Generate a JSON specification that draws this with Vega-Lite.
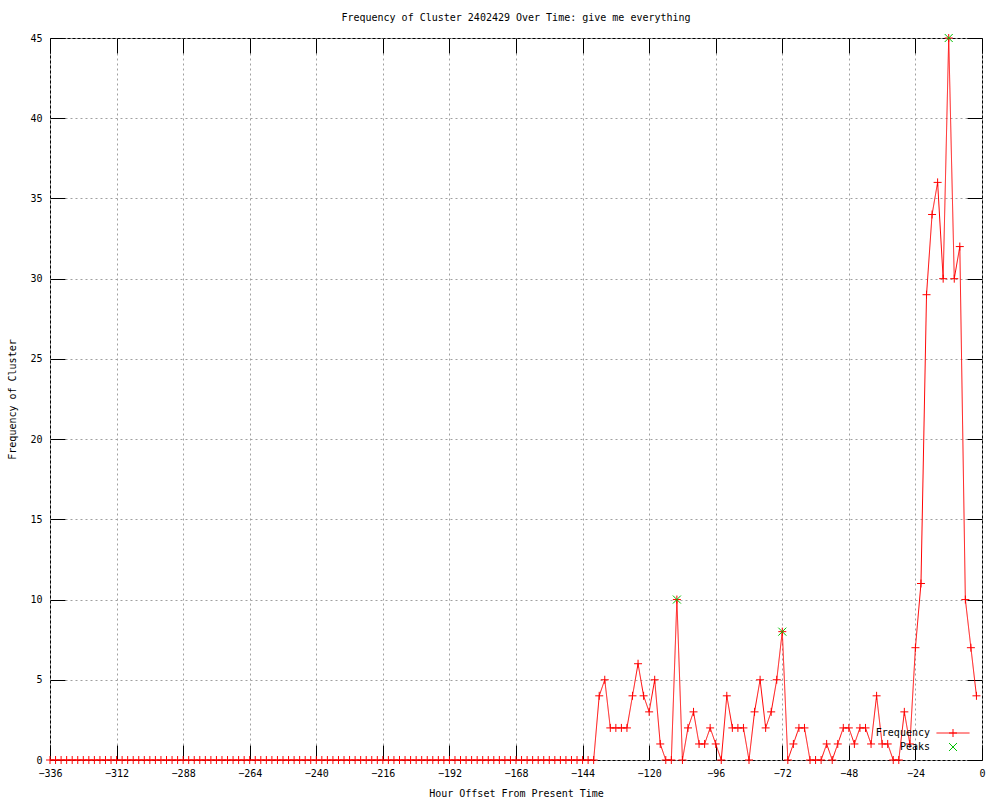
{
  "$schema": "https://vega.github.io/schema/vega-lite/v6.json",
  "width": 932,
  "height": 722,
  "autosize": {"type": "none"},
  "padding": {"left": 50, "top": 38, "right": 18, "bottom": 40},
  "background": "white",
  "title": {"text": "Frequency of Cluster 2402429 Over Time: give me everything", "font": "DejaVu Sans Mono", "fontSize": 10, "fontWeight": "normal", "color": "black", "anchor": "middle", "offset": 9},
  "config": {
    "view": {"stroke": "black", "strokeWidth": 1},
    "axis": {
      "domain": false,
      "tickColor": "black",
      "tickWidth": 1,
      "tickSize": -15,
      "labelFont": "DejaVu Sans Mono",
      "labelFontSize": 10,
      "labelColor": "black",
      "labelFlush": false,
      "labelOverlap": false,
      "titleFont": "DejaVu Sans Mono",
      "titleFontSize": 10,
      "titleFontWeight": "normal",
      "titleColor": "black",
      "gridColor": "#a0a0a0",
      "gridDash": [2, 3],
      "gridWidth": 1,
      "gridOpacity": 1
    },
    "legend": {"labelFont": "DejaVu Sans Mono", "labelFontSize": 10, "labelColor": "black"}
  },
  "datasets": {
    "freq": [
      {"hour": -336, "freq": 0}, {"hour": -334, "freq": 0}, {"hour": -332, "freq": 0}, {"hour": -330, "freq": 0}, {"hour": -328, "freq": 0}, {"hour": -326, "freq": 0}, {"hour": -324, "freq": 0}, {"hour": -322, "freq": 0}, {"hour": -320, "freq": 0}, {"hour": -318, "freq": 0}, {"hour": -316, "freq": 0}, {"hour": -314, "freq": 0},
      {"hour": -312, "freq": 0}, {"hour": -310, "freq": 0}, {"hour": -308, "freq": 0}, {"hour": -306, "freq": 0}, {"hour": -304, "freq": 0}, {"hour": -302, "freq": 0}, {"hour": -300, "freq": 0}, {"hour": -298, "freq": 0}, {"hour": -296, "freq": 0}, {"hour": -294, "freq": 0}, {"hour": -292, "freq": 0}, {"hour": -290, "freq": 0},
      {"hour": -288, "freq": 0}, {"hour": -286, "freq": 0}, {"hour": -284, "freq": 0}, {"hour": -282, "freq": 0}, {"hour": -280, "freq": 0}, {"hour": -278, "freq": 0}, {"hour": -276, "freq": 0}, {"hour": -274, "freq": 0}, {"hour": -272, "freq": 0}, {"hour": -270, "freq": 0}, {"hour": -268, "freq": 0}, {"hour": -266, "freq": 0},
      {"hour": -264, "freq": 0}, {"hour": -262, "freq": 0}, {"hour": -260, "freq": 0}, {"hour": -258, "freq": 0}, {"hour": -256, "freq": 0}, {"hour": -254, "freq": 0}, {"hour": -252, "freq": 0}, {"hour": -250, "freq": 0}, {"hour": -248, "freq": 0}, {"hour": -246, "freq": 0}, {"hour": -244, "freq": 0}, {"hour": -242, "freq": 0},
      {"hour": -240, "freq": 0}, {"hour": -238, "freq": 0}, {"hour": -236, "freq": 0}, {"hour": -234, "freq": 0}, {"hour": -232, "freq": 0}, {"hour": -230, "freq": 0}, {"hour": -228, "freq": 0}, {"hour": -226, "freq": 0}, {"hour": -224, "freq": 0}, {"hour": -222, "freq": 0}, {"hour": -220, "freq": 0}, {"hour": -218, "freq": 0},
      {"hour": -216, "freq": 0}, {"hour": -214, "freq": 0}, {"hour": -212, "freq": 0}, {"hour": -210, "freq": 0}, {"hour": -208, "freq": 0}, {"hour": -206, "freq": 0}, {"hour": -204, "freq": 0}, {"hour": -202, "freq": 0}, {"hour": -200, "freq": 0}, {"hour": -198, "freq": 0}, {"hour": -196, "freq": 0}, {"hour": -194, "freq": 0},
      {"hour": -192, "freq": 0}, {"hour": -190, "freq": 0}, {"hour": -188, "freq": 0}, {"hour": -186, "freq": 0}, {"hour": -184, "freq": 0}, {"hour": -182, "freq": 0}, {"hour": -180, "freq": 0}, {"hour": -178, "freq": 0}, {"hour": -176, "freq": 0}, {"hour": -174, "freq": 0}, {"hour": -172, "freq": 0}, {"hour": -170, "freq": 0},
      {"hour": -168, "freq": 0}, {"hour": -166, "freq": 0}, {"hour": -164, "freq": 0}, {"hour": -162, "freq": 0}, {"hour": -160, "freq": 0}, {"hour": -158, "freq": 0}, {"hour": -156, "freq": 0}, {"hour": -154, "freq": 0}, {"hour": -152, "freq": 0}, {"hour": -150, "freq": 0}, {"hour": -148, "freq": 0}, {"hour": -146, "freq": 0},
      {"hour": -144, "freq": 0}, {"hour": -142, "freq": 0}, {"hour": -140, "freq": 0}, {"hour": -138, "freq": 4}, {"hour": -136, "freq": 5}, {"hour": -134, "freq": 2}, {"hour": -132, "freq": 2}, {"hour": -130, "freq": 2}, {"hour": -128, "freq": 2}, {"hour": -126, "freq": 4}, {"hour": -124, "freq": 6}, {"hour": -122, "freq": 4},
      {"hour": -120, "freq": 3}, {"hour": -118, "freq": 5}, {"hour": -116, "freq": 1}, {"hour": -114, "freq": 0}, {"hour": -112, "freq": 0}, {"hour": -110, "freq": 10}, {"hour": -108, "freq": 0}, {"hour": -106, "freq": 2}, {"hour": -104, "freq": 3}, {"hour": -102, "freq": 1}, {"hour": -100, "freq": 1}, {"hour": -98, "freq": 2},
      {"hour": -96, "freq": 1}, {"hour": -94, "freq": 0}, {"hour": -92, "freq": 4}, {"hour": -90, "freq": 2}, {"hour": -88, "freq": 2}, {"hour": -86, "freq": 2}, {"hour": -84, "freq": 0}, {"hour": -82, "freq": 3}, {"hour": -80, "freq": 5}, {"hour": -78, "freq": 2}, {"hour": -76, "freq": 3}, {"hour": -74, "freq": 5},
      {"hour": -72, "freq": 8}, {"hour": -70, "freq": 0}, {"hour": -68, "freq": 1}, {"hour": -66, "freq": 2}, {"hour": -64, "freq": 2}, {"hour": -62, "freq": 0}, {"hour": -60, "freq": 0}, {"hour": -58, "freq": 0}, {"hour": -56, "freq": 1}, {"hour": -54, "freq": 0}, {"hour": -52, "freq": 1}, {"hour": -50, "freq": 2},
      {"hour": -48, "freq": 2}, {"hour": -46, "freq": 1}, {"hour": -44, "freq": 2}, {"hour": -42, "freq": 2}, {"hour": -40, "freq": 1}, {"hour": -38, "freq": 4}, {"hour": -36, "freq": 1}, {"hour": -34, "freq": 1}, {"hour": -32, "freq": 0}, {"hour": -30, "freq": 0}, {"hour": -28, "freq": 3}, {"hour": -26, "freq": 1},
      {"hour": -24, "freq": 7}, {"hour": -22, "freq": 11}, {"hour": -20, "freq": 29}, {"hour": -18, "freq": 34}, {"hour": -16, "freq": 36}, {"hour": -14, "freq": 30}, {"hour": -12, "freq": 45}, {"hour": -10, "freq": 30}, {"hour": -8, "freq": 32}, {"hour": -6, "freq": 10}, {"hour": -4, "freq": 7}, {"hour": -2, "freq": 4}
    ],
    "peaks": [
      {"hour": -110, "freq": 10}, {"hour": -72, "freq": 8}, {"hour": -12, "freq": 45}
    ]
  },
  "layer": [
    {
      "data": {"name": "freq"},
      "mark": {"type": "point", "opacity": 0},
      "encoding": {
        "x": {"field": "hour", "type": "quantitative", "scale": {"domain": [-336, 0], "nice": false, "zero": false},
              "axis": {"orient": "top", "values": [-336, -312, -288, -264, -240, -216, -192, -168, -144, -120, -96, -72, -48, -24, 0], "labels": false, "title": null, "grid": false}},
        "y": {"field": "freq", "type": "quantitative", "scale": {"domain": [0, 45], "nice": false},
              "axis": {"orient": "right", "values": [0, 5, 10, 15, 20, 25, 30, 35, 40, 45], "labels": false, "title": null, "grid": false}}
      }
    },
    {
      "data": {"name": "freq"},
      "mark": {"type": "line", "color": "#ff0000", "strokeWidth": 1},
      "encoding": {
        "x": {"field": "hour", "type": "quantitative",
              "axis": {"orient": "bottom", "values": [-336, -312, -288, -264, -240, -216, -192, -168, -144, -120, -96, -72, -48, -24, 0], "title": "Hour Offset From Present Time", "labelPadding": 23, "titlePadding": 10, "grid": true}},
        "y": {"field": "freq", "type": "quantitative",
              "axis": {"orient": "left", "values": [0, 5, 10, 15, 20, 25, 30, 35, 40, 45], "title": "Frequency of Cluster", "labelPadding": 23, "titlePadding": 12, "grid": true}},
        "strokeDash": {"datum": "Frequency", "type": "nominal",
                       "scale": {"domain": ["Frequency"], "range": [[1, 0]]},
                       "legend": {"orient": "none", "legendX": 886, "legendY": 678, "title": null, "padding": 0, "symbolType": "stroke", "symbolSize": 1089, "symbolStrokeWidth": 1, "symbolStrokeColor": "#ff0000", "labelExpr": "''", "labelOffset": 0}}
      }
    },
    {
      "data": {"name": "freq"},
      "mark": {"type": "point", "size": 64, "filled": false, "strokeWidth": 1, "opacity": 1},
      "encoding": {
        "x": {"field": "hour", "type": "quantitative", "axis": null},
        "y": {"field": "freq", "type": "quantitative", "axis": null},
        "color": {"datum": "Frequency", "type": "nominal",
                  "scale": {"domain": ["Frequency", "Peaks"], "range": ["#ff0000", "#00c000"]},
                  "legend": {"orient": "none", "legendX": 898, "legendY": 690, "title": null, "padding": 0, "symbolSize": 64, "symbolStrokeWidth": 1, "labelAlign": "right", "labelOffset": -28, "rowPadding": 2}},
        "shape": {"datum": "Frequency", "type": "nominal",
                  "scale": {"domain": ["Frequency", "Peaks"], "range": ["M-1,0H1M0,-1V1", "M-1,-1L1,1M-1,1L1,-1"]},
                  "legend": {"orient": "none", "legendX": 898, "legendY": 690, "title": null, "padding": 0, "symbolSize": 64, "symbolStrokeWidth": 1, "labelAlign": "right", "labelOffset": -28, "rowPadding": 2}}
      }
    },
    {
      "data": {"name": "peaks"},
      "mark": {"type": "point", "size": 64, "filled": false, "strokeWidth": 1, "opacity": 1},
      "encoding": {
        "x": {"field": "hour", "type": "quantitative", "axis": null},
        "y": {"field": "freq", "type": "quantitative", "axis": null},
        "color": {"datum": "Peaks", "type": "nominal"},
        "shape": {"datum": "Peaks", "type": "nominal"}
      }
    }
  ],
  "resolve": {"axis": {"x": "independent", "y": "independent"}}
}
